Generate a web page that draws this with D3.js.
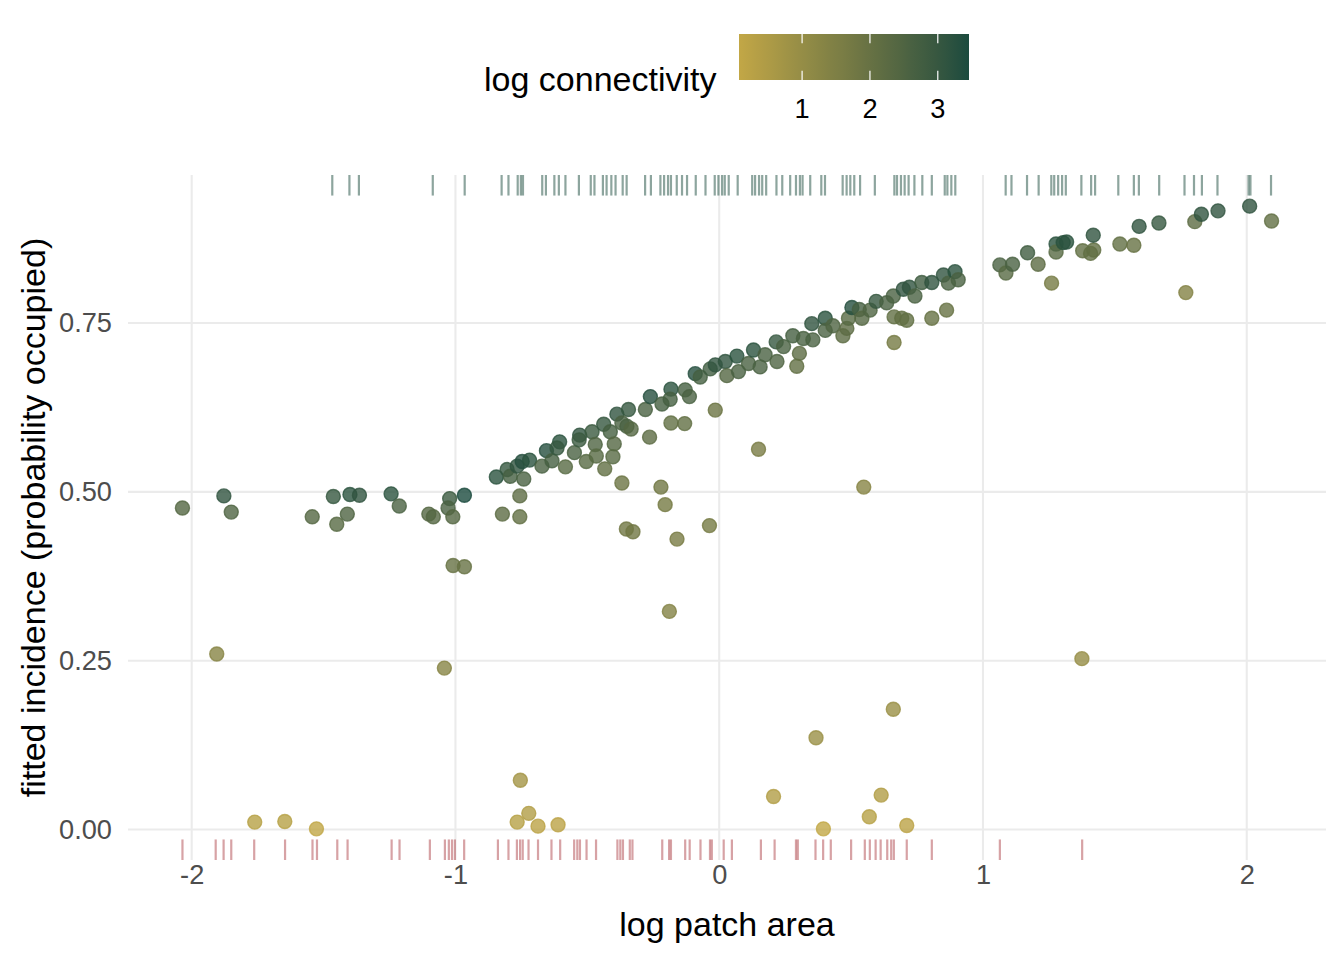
<!DOCTYPE html>
<html>
<head>
<meta charset="utf-8">
<script src="https://cdnjs.cloudflare.com/ajax/libs/d3/7.8.5/d3.min.js"></script>
<style>
  body { margin: 0; background: #fff; }
  text { font-family: "Liberation Sans", Arial, Helvetica, sans-serif; }
</style>
</head>
<body>
<div id="chart"></div>
<script>
// one entry per patch: log area, fitted incidence, log connectivity
var logArea = [
  -2.035,-1.878,-1.850,-1.543,-1.463,-1.400,-1.364,-1.410,-1.450,-1.244,
  -1.213,-1.101,-1.084,-1.022,-1.028,-1.010,-0.966,-1.009,-0.966,-1.905,
  -1.042,-0.845,-0.804,-0.792,-0.766,-0.747,-0.719,-0.741,-0.756,-0.822,
  -0.756,-0.672,-0.655,-0.634,-0.605,-0.615,-0.583,-0.549,-0.529,-0.531,
  -0.482,-0.504,-0.470,-0.466,-0.438,-0.413,-0.398,-0.403,-0.434,-0.388,
  -0.344,-0.369,-0.350,-0.334,-0.369,-0.280,-0.264,-0.261,-0.221,-0.205,
  -0.183,-0.131,-0.183,-0.217,-0.186,-0.129,-0.113,-0.091,-0.072,-0.034,
  -0.015,-0.352,-0.327,-0.160,-0.037,-0.189,
  -0.015,0.023,0.067,0.029,0.073,0.111,0.130,0.155,0.174,0.219,
  0.216,0.244,0.279,0.304,0.294,0.319,0.355,0.351,0.402,0.402,
  0.431,0.469,0.484,0.490,0.503,0.531,0.541,0.572,0.595,0.635,
  0.660,0.663,0.692,0.711,0.663,0.698,0.721,0.742,0.768,0.806,
  0.806,0.862,0.850,0.869,0.894,0.906,0.149,0.548,1.064,1.087,
  1.112,1.169,1.209,1.260,1.277,1.277,1.304,1.317,1.378,1.408,
  1.420,1.418,1.519,1.572,1.592,1.667,1.769,1.803,1.828,1.891,
  2.011,2.094,1.375,
  -0.754,-0.722,-0.766,-0.687,-0.611,0.367,0.660,0.206,0.614,0.569,
  0.395,0.711,-1.761,-1.647,-1.527
]
var incidence = [
  0.476,0.494,0.470,0.463,0.493,0.496,0.495,0.467,0.452,0.497,
  0.479,0.467,0.463,0.490,0.476,0.463,0.495,0.391,0.389,0.260,
  0.239,0.522,0.533,0.523,0.538,0.545,0.547,0.519,0.494,0.467,
  0.463,0.538,0.561,0.546,0.574,0.565,0.537,0.558,0.584,0.577,
  0.589,0.545,0.570,0.553,0.600,0.589,0.571,0.552,0.534,0.615,
  0.622,0.602,0.597,0.593,0.513,0.622,0.581,0.641,0.507,0.481,
  0.602,0.601,0.652,0.630,0.637,0.651,0.641,0.675,0.670,0.682,
  0.621,0.445,0.441,0.430,0.450,0.323,
  0.688,0.693,0.701,0.672,0.678,0.690,0.710,0.685,0.703,0.693,
  0.722,0.715,0.731,0.705,0.686,0.727,0.725,0.749,0.757,0.739,
  0.746,0.731,0.742,0.757,0.773,0.770,0.757,0.769,0.782,0.780,
  0.790,0.759,0.757,0.754,0.721,0.800,0.803,0.790,0.810,0.810,
  0.757,0.769,0.821,0.809,0.826,0.814,0.563,0.507,0.836,0.824,
  0.837,0.854,0.837,0.809,0.867,0.855,0.869,0.870,0.857,0.853,
  0.858,0.880,0.867,0.865,0.893,0.898,0.795,0.900,0.911,0.916,
  0.923,0.901,0.253,
  0.073,0.024,0.011,0.005,0.007,0.136,0.178,0.049,0.051,0.019,
  0.001,0.006,0.011,0.012,0.001
]
var logConn = [
  2.4,3.1,2.5,2.4,3.0,3.2,3.1,2.5,2.3,3.2,
  2.6,2.4,2.4,2.9,2.6,2.4,3.46,2.0,2.0,1.3,
  1.3,3.2,3.0,2.7,3.1,3.3,3.2,2.6,2.2,2.2,
  2.1,2.6,3.3,2.7,3.2,3.0,2.3,2.6,3.1,2.9,
  2.9,2.3,2.5,2.3,3.0,2.7,2.4,2.3,2.1,3.1,
  3.0,2.6,2.6,2.4,1.9,2.6,2.2,3.3,1.8,1.7,
  2.1,2.1,3.2,2.7,2.7,2.7,2.6,3.3,2.7,2.8,
  1.9,1.8,1.8,1.6,1.7,1.4,
  3.1,3.1,3.2,2.4,2.6,2.6,3.2,2.6,2.6,2.5,
  3.0,2.6,2.7,2.2,2.1,2.6,2.6,3.1,3.2,2.6,
  2.5,2.2,2.2,2.3,3.3,2.7,2.4,2.5,3.0,2.6,
  2.6,2.1,2.1,2.1,1.7,3.1,3.1,2.6,2.8,3.1,
  2.0,2.0,3.1,2.6,3.2,2.6,1.6,1.3,2.6,2.3,
  2.6,2.8,2.2,1.7,3.2,2.3,3.2,3.2,2.1,2.1,
  2.1,3.1,2.1,2.0,3.1,3.0,1.4,2.2,3.1,3.1,
  3.1,2.1,1.0,
  0.7,0.4,0.3,0.2,0.2,0.9,0.9,0.4,0.4,0.3,
  0.07,0.2,0.3,0.3,0.1
]

// rug: log area of occupied (top) and empty (bottom) patches
var occupiedArea = [
  -1.467,-1.402,-1.366,-1.086,-0.965,-0.825,-0.799,-0.764,-0.752,-0.744,
  -0.671,-0.657,-0.625,-0.608,-0.583,-0.532,-0.487,-0.473,-0.441,-0.427,
  -0.409,-0.393,-0.366,-0.351,-0.281,-0.259,-0.223,-0.209,-0.194,-0.183,
  -0.161,-0.141,-0.122,-0.089,-0.052,-0.017,-0.003,
  0.011,0.021,0.036,0.070,0.125,0.136,0.151,0.163,0.178,0.217,
  0.239,0.269,0.291,0.306,0.316,0.345,0.387,0.401,0.468,0.483,
  0.497,0.512,0.534,0.590,0.664,0.674,0.689,0.703,0.718,0.740,
  0.770,0.806,0.855,0.865,0.880,0.895,1.086,1.108,1.167,1.211,
  1.259,1.270,1.285,1.300,1.314,1.373,1.410,1.425,1.513,1.572,
  1.591,1.668,1.764,1.800,1.830,1.889,2.007,2.014,2.092
]
var emptyArea = [
  -2.035,-1.909,-1.879,-1.850,-1.763,-1.646,-1.542,-1.525,-1.448,-1.409,
  -1.242,-1.212,-1.097,-1.040,-1.025,-1.013,-1.002,-0.967,-0.839,-0.799,
  -0.767,-0.755,-0.745,-0.723,-0.687,-0.636,-0.603,-0.550,-0.538,-0.528,
  -0.503,-0.467,-0.386,-0.375,-0.365,-0.339,-0.329,-0.216,-0.190,-0.183,
  -0.129,-0.112,-0.071,-0.035,-0.028,0.017,0.048,0.158,0.210,0.291,
  0.298,0.365,0.394,0.423,0.500,0.552,0.571,0.593,0.612,0.637,
  0.652,0.662,0.711,0.806,1.064,1.376
]

var xTicks = [-2, -1, 0, 1, 2]
var yTicks = [0, 0.25, 0.5, 0.75]
var connTicks = [1, 2, 3]

var width = 1344, height = 960
var panel = { left: 128, right: 1326, top: 175, bottom: 860 }

function expand(ext) {
  var pad = (ext[1] - ext[0]) * 0.05
  return [ext[0] - pad, ext[1] + pad]
}

var x = d3.scaleLinear()
  .domain(expand(d3.extent(logArea)))
  .range([panel.left, panel.right])

var y = d3.scaleLinear()
  .domain(expand(d3.extent(incidence)))
  .range([panel.bottom, panel.top])

var color = d3.scaleLinear()
  .domain(d3.extent(logConn))
  .range(["#C2A746", "#1B4B3E"])
  .interpolate(d3.interpolateLab)

var svg = d3.select("#chart").append("svg")
  .attr("width", width)
  .attr("height", height)

// grid
svg.append("g")
  .selectAll("line")
  .data(xTicks)
  .join("line")
    .attr("x1", d => x(d)).attr("x2", d => x(d))
    .attr("y1", panel.top).attr("y2", panel.bottom)
    .attr("stroke", "#EBEBEB")
    .attr("stroke-width", 2.1)

svg.append("g")
  .selectAll("line")
  .data(yTicks)
  .join("line")
    .attr("x1", panel.left).attr("x2", panel.right)
    .attr("y1", d => y(d)).attr("y2", d => y(d))
    .attr("stroke", "#EBEBEB")
    .attr("stroke-width", 2.1)

// axes (labels only, theme_minimal style)
var xAxis = svg.append("g")
  .attr("transform", `translate(0,${panel.bottom})`)
  .call(d3.axisBottom(x).tickValues(xTicks).tickFormat(d => String(d)).tickSize(0).tickPadding(5))
xAxis.select(".domain").remove()
xAxis.selectAll("text")
  .attr("font-size", 27.2)
  .attr("fill", "#4D4D4D")
  .style("font-family", "'Liberation Sans', Arial, sans-serif")

var yAxis = svg.append("g")
  .attr("transform", `translate(${panel.left},0)`)
  .call(d3.axisLeft(y).tickValues(yTicks).tickFormat(d3.format(".2f")).tickSize(0).tickPadding(16))
yAxis.select(".domain").remove()
yAxis.selectAll("text")
  .attr("font-size", 27.2)
  .attr("fill", "#4D4D4D")
  .style("font-family", "'Liberation Sans', Arial, sans-serif")

// rugs
var rugLen = (panel.bottom - panel.top) * 0.03
svg.append("g")
  .selectAll("line")
  .data(occupiedArea)
  .join("line")
    .attr("x1", d => x(d)).attr("x2", d => x(d))
    .attr("y1", panel.top).attr("y2", panel.top + rugLen)
    .attr("stroke", "#1B4B3E")
    .attr("stroke-opacity", 0.5)
    .attr("stroke-width", 2.2)

svg.append("g")
  .selectAll("line")
  .data(emptyArea)
  .join("line")
    .attr("x1", d => x(d)).attr("x2", d => x(d))
    .attr("y1", panel.bottom - rugLen).attr("y2", panel.bottom)
    .attr("stroke", "#B0464B")
    .attr("stroke-opacity", 0.5)
    .attr("stroke-width", 2.2)

// points
svg.append("g")
  .selectAll("circle")
  .data(d3.range(logArea.length))
  .join("circle")
    .attr("cx", i => x(logArea[i]))
    .attr("cy", i => y(incidence[i]))
    .attr("r", 7)
    .attr("fill", i => color(logConn[i]))
    .attr("fill-opacity", 0.8)
    .attr("stroke", i => color(logConn[i]))
    .attr("stroke-opacity", 0.8)
    .attr("stroke-width", 1.4)

// axis titles
svg.append("text")
  .attr("x", (panel.left + panel.right) / 2)
  .attr("y", 936)
  .attr("text-anchor", "middle")
  .attr("font-size", 34)
  .attr("fill", "#000")
  .text("log patch area")

svg.append("text")
  .attr("transform", `translate(45,${(panel.top + panel.bottom) / 2}) rotate(-90)`)
  .attr("text-anchor", "middle")
  .attr("font-size", 34)
  .attr("fill", "#000")
  .text("fitted incidence (probability occupied)")

// colour bar legend
var bar = { x0: 739, x1: 969, y0: 34, y1: 80 }
var lx = d3.scaleLinear().domain(color.domain()).range([bar.x0, bar.x1])

var grad = svg.append("defs").append("linearGradient")
  .attr("id", "connGrad")
  .attr("x1", "0%").attr("x2", "100%")
grad.selectAll("stop")
  .data(d3.range(0, 1.0001, 0.05))
  .join("stop")
    .attr("offset", t => (t * 100) + "%")
    .attr("stop-color", t => color(color.domain()[0] + t * (color.domain()[1] - color.domain()[0])))

svg.append("rect")
  .attr("x", bar.x0).attr("y", bar.y0)
  .attr("width", bar.x1 - bar.x0).attr("height", bar.y1 - bar.y0)
  .attr("fill", "url(#connGrad)")

var tickLen = (bar.y1 - bar.y0) / 5
var lt = svg.append("g")
lt.selectAll("line.top")
  .data(connTicks)
  .join("line")
    .attr("class", "top")
    .attr("x1", d => lx(d)).attr("x2", d => lx(d))
    .attr("y1", bar.y0).attr("y2", bar.y0 + tickLen)
    .attr("stroke", "#fff").attr("stroke-width", 1.2)
lt.selectAll("line.bot")
  .data(connTicks)
  .join("line")
    .attr("class", "bot")
    .attr("x1", d => lx(d)).attr("x2", d => lx(d))
    .attr("y1", bar.y1 - tickLen).attr("y2", bar.y1)
    .attr("stroke", "#fff").attr("stroke-width", 1.2)

svg.append("g")
  .selectAll("text")
  .data(connTicks)
  .join("text")
    .attr("x", d => lx(d))
    .attr("y", 118)
    .attr("text-anchor", "middle")
    .attr("font-size", 27.2)
    .attr("fill", "#000")
    .text(d => d)

svg.append("text")
  .attr("x", 484)
  .attr("y", 91)
  .attr("font-size", 34)
  .attr("fill", "#000")
  .text("log connectivity")
</script>
</body>
</html>
